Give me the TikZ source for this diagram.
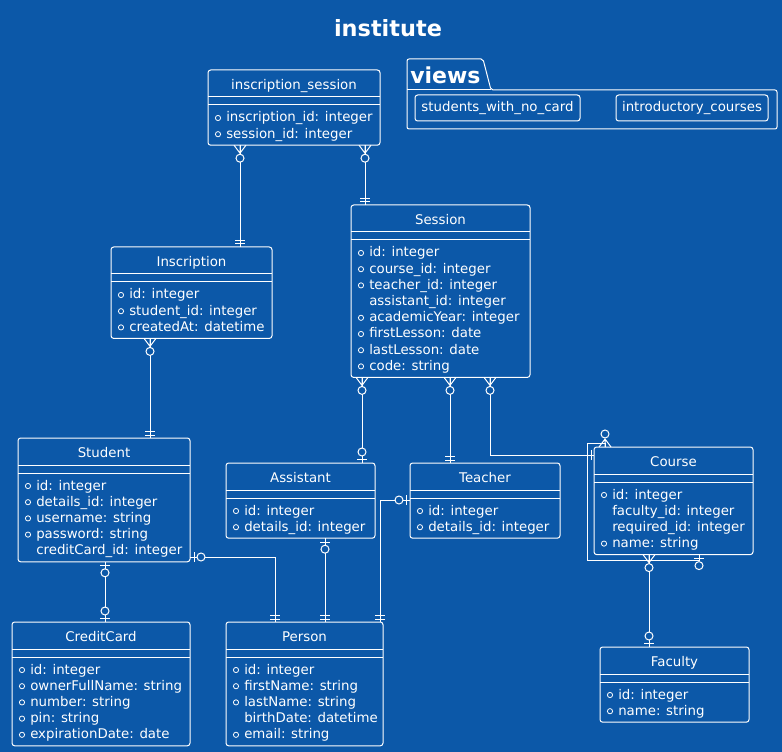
\documentclass[tikz,border=0pt]{standalone}
\usepackage{fontspec}
\setmainfont{DejaVu Sans}
\definecolor{bg}{RGB}{12,88,168}
\tikzset{
  ln/.style={draw=white, line width=0.75pt},
  ebox/.style={draw=white, line width=0.75pt, rounded corners=2pt, inner sep=0pt, outer sep=0pt, anchor=north west},
  etxt/.style={text=white, font=\fontsize{10}{12}\selectfont, inner sep=0pt, anchor=base west},
  ettl/.style={text=white, font=\fontsize{10}{12}\selectfont, inner sep=0pt, anchor=base},
  keydot/.style={draw=white, line width=0.6pt, circle, inner sep=0pt, minimum size=3.9pt},
  vbox/.style={draw=white, line width=0.75pt, rounded corners=2pt, inner sep=0pt, text=white, font=\fontsize{10}{12}\selectfont},
  zmany/.pic={\draw[ln] (0,0) -- (8,0) (0,6) -- (8,0) -- (0,-6); \draw[ln, fill=bg] (13,0) circle[radius=4];},
  zone/.pic={\draw[ln] (4,-5) -- (4,5); \draw[ln, fill=bg] (11,0) circle[radius=4];},
  exone/.pic={\draw[ln] (3,-5) -- (3,5) (6.5,-5) -- (6.5,5);}
}
\newcommand\entity[7]{%
  \pgfmathsetmacro\ew{(#4-#2)*0.75}%
  \pgfmathsetmacro\eh{(42.8+#5*16.2)*0.75}%
  \node[ebox, minimum width=\ew pt, minimum height=\eh pt] (#1) at (#2,#3) {};
  \draw[ln] (#2,#3+27) -- (#4,#3+27) (#2,#3+35) -- (#4,#3+35);
  \node[ettl] (#1-t) at ({(#2+#4)/2},#3+19.5) {#6};
  \foreach \k/\t [count=\i] in {#7} {
    \pgfmathsetmacro\ry{#3+46.5+(\i-1)*16.2}
    \node[etxt] (#1-r\i) at (#2+18,\ry+5.5) {\t};
    \if y\k \node[keydot] (#1-k\i) at (#2+10,\ry+1.5) {}; \fi
  }
}
\begin{document}
\begin{tikzpicture}[x=0.75pt, y=-0.75pt]
\fill[bg] (0,0) rectangle (782,752);
\useasboundingbox (0,0) rectangle (782,752);

\node[text=white, font=\bfseries\fontsize{16.8}{20}\selectfont, anchor=base, inner sep=0pt] (title) at (388,36.5) {institute};

% views package
\draw[ln, rounded corners=1.5pt] (407,129) -- (407,59) -- (483,59) -- (491,90) -- (777,90) -- (777,129) -- cycle;
\draw[ln] (407,90) -- (491,90);
\node[text=white, font=\bfseries\fontsize{16.5}{20}\selectfont, anchor=base west, inner sep=0pt] (views) at (410,83.5) {views};
\node[vbox, minimum width=123.75pt, minimum height=19.5pt] (v1) at (497.5,108) {students\_with\_no\_card};
\node[vbox, minimum width=114pt, minimum height=19.5pt] (v2) at (692,108) {introductory\_courses};

% entities
\entity{insses}{208}{70}{380}{2}{inscription\_session}{y/inscription\_id: integer, y/session\_id: integer}
\entity{session}{351}{205}{530}{8}{Session}{y/id: integer, y/course\_id: integer, y/teacher\_id: integer, n/assistant\_id: integer, y/academicYear: integer, y/firstLesson: date, y/lastLesson: date, y/code: string}
\entity{inscr}{111}{247}{272}{3}{Inscription}{y/id: integer, y/student\_id: integer, y/createdAt: datetime}
\entity{student}{18}{438}{190}{5}{Student}{y/id: integer, y/details\_id: integer, y/username: string, y/password: string, n/creditCard\_id: integer}
\entity{assistant}{226}{463}{375}{2}{Assistant}{y/id: integer, y/details\_id: integer}
\entity{teacher}{410}{463}{560}{2}{Teacher}{y/id: integer, y/details\_id: integer}
\entity{course}{594}{447}{753}{4}{Course}{y/id: integer, n/faculty\_id: integer, n/required\_id: integer, y/name: string}
\entity{cc}{12}{622}{190}{5}{CreditCard}{y/id: integer, y/ownerFullName: string, y/number: string, y/pin: string, y/expirationDate: date}
\entity{person}{226}{622}{383}{5}{Person}{y/id: integer, y/firstName: string, y/lastName: string, n/birthDate: datetime, y/email: string}
\entity{faculty}{600}{647}{749}{2}{Faculty}{y/id: integer, y/name: string}

% connectors
\draw[ln] (240,0 |- insses.south) -- (240,0 |- inscr.north);
\draw[ln] (365,0 |- insses.south) -- (365,0 |- session.north);
\draw[ln] (150,0 |- inscr.south) -- (150,0 |- student.north);
\draw[ln] (362,0 |- session.south) -- (362,0 |- assistant.north);
\draw[ln] (450,0 |- session.south) -- (450,0 |- teacher.north);
\draw[ln] (490,0 |- session.south) |- (course.west |- 0,455);
\draw[ln] (605,0 |- course.north) -- (605,443) -| (587,560) -| (699,0 |- course.south);
\draw[ln] (649,0 |- course.south) -- (649,0 |- faculty.north);
\draw[ln] (105,0 |- student.south) -- (105,0 |- cc.north);
\draw[ln] (student.east |- 0,557) -| (275,0 |- person.north);
\draw[ln] (325,0 |- assistant.south) -- (325,0 |- person.north);
\draw[ln] (teacher.west |- 0,500) -| (380,0 |- person.north);

% ends
\pic[rotate=-90] at (240,0 |- insses.south) {zmany};
\pic[rotate=90] at (240,0 |- inscr.north) {exone};
\pic[rotate=-90] at (365,0 |- insses.south) {zmany};
\pic[rotate=90] at (365,0 |- session.north) {exone};
\pic[rotate=-90] at (150,0 |- inscr.south) {zmany};
\pic[rotate=90] at (150,0 |- student.north) {exone};
\pic[rotate=-90] at (362,0 |- session.south) {zmany};
\pic[rotate=90] at (362,0 |- assistant.north) {zone};
\pic[rotate=-90] at (450,0 |- session.south) {zmany};
\pic[rotate=90] at (450,0 |- teacher.north) {exone};
\pic[rotate=-90] at (490,0 |- session.south) {zmany};
\pic[rotate=180] at (course.west |- 0,455) {exone};
\pic[rotate=90] at (605,0 |- course.north) {zmany};
\pic[rotate=-90] at (699,0 |- course.south) {zone};
\pic[rotate=-90] at (649,0 |- course.south) {zmany};
\pic[rotate=90] at (649,0 |- faculty.north) {zone};
\pic[rotate=-90] at (105,0 |- student.south) {zone};
\pic[rotate=90] at (105,0 |- cc.north) {zone};
\pic[rotate=0] at (student.east |- 0,557) {zone};
\pic[rotate=90] at (275,0 |- person.north) {exone};
\pic[rotate=-90] at (325,0 |- assistant.south) {zone};
\pic[rotate=90] at (325,0 |- person.north) {exone};
\pic[rotate=180] at (teacher.west |- 0,500) {zone};
\pic[rotate=90] at (380,0 |- person.north) {exone};
\end{tikzpicture}
\end{document}
